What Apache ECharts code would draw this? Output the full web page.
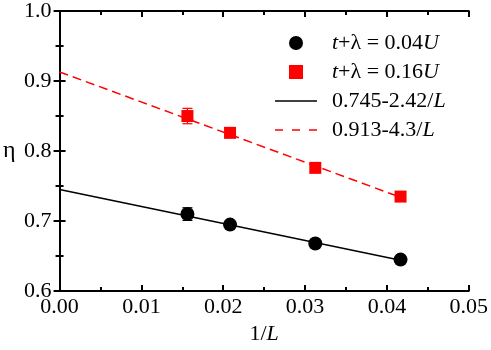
<!DOCTYPE html>
<html>
<head>
<meta charset="utf-8">
<script src="https://cdn.jsdelivr.net/npm/echarts@6/dist/echarts.min.js"></script>
<style>
  html, body { margin: 0; padding: 0; background: #fff; }
  #chart { width: 491px; height: 350px; }
</style>
</head>
<body>
<div id="chart"></div>
<script>
  // 1/L for L = 64, 48, 32, 24
  var invL = [0.015625, 0.020833, 0.03125, 0.041667];
  var etaSmall = [0.710, 0.695, 0.668, 0.645];   // t+λ = 0.04U
  var etaLarge = [0.850, 0.826, 0.776, 0.735];   // t+λ = 0.16U
  var errSmall = [0.009, 0.003, 0.003, 0.003];
  var errLarge = [0.011, 0.003, 0.003, 0.003];
  // fitted lines, end points
  var fitSmall = [[0, 0.745], [0.041667, 0.644]];
  var fitLarge = [[0, 0.913], [0.041667, 0.734]];
  var names = ['t+λ = 0.04U', 't+λ = 0.16U', '0.745-2.42/L', '0.913-4.3/L'];
  var richNames = {
    't+λ = 0.04U': '{i|t}+λ = 0.04{i|U}',
    't+λ = 0.16U': '{i|t}+λ = 0.16{i|U}',
    '0.745-2.42/L': '0.745-2.42/{i|L}',
    '0.913-4.3/L': '0.913-4.3/{i|L}'
  };

  var FONT = 'Liberation Serif';
  var FS = 22;
  var chart = echarts.init(document.getElementById('chart'));

  function pts(xs, ys, es) {
    var out = [];
    for (var i = 0; i < xs.length; i++) out.push(es ? [xs[i], ys[i], es[i]] : [xs[i], ys[i]]);
    return out;
  }

  function errBar(params, api) {
    var x = api.value(0), y = api.value(1), e = api.value(2);
    var top = api.coord([x, y + e]);
    var bot = api.coord([x, y - e]);
    var w = 5;
    var st = { stroke: api.visual('color'), lineWidth: 1.2 };
    return {
      type: 'group',
      children: [
        { type: 'line', shape: { x1: top[0], y1: top[1], x2: bot[0], y2: bot[1] }, style: st },
        { type: 'line', shape: { x1: top[0] - w, y1: top[1], x2: top[0] + w, y2: top[1] }, style: st },
        { type: 'line', shape: { x1: bot[0] - w, y1: bot[1], x2: bot[0] + w, y2: bot[1] }, style: st }
      ]
    };
  }

  var axisCommon = {
    axisLine: { lineStyle: { color: '#000', width: 2 } },
    axisTick: { inside: true, length: 6, lineStyle: { color: '#000', width: 2 } },
    minorTick: { show: true, splitNumber: 2, length: 4, lineStyle: { color: '#000', width: 2 } },
    splitLine: { show: false }
  };

  var option = {
    backgroundColor: '#fff',
    animation: false,
    grid: { left: 58, right: 21, top: 9, bottom: 52 },
    legend: {
      data: [
        { name: names[0], icon: 'circle' },
        { name: names[1], icon: 'path://M0,0h12v12h-12z' },
        { name: names[2], icon: 'path://M0,0h42v1.5h-42z' },
        { name: names[3], icon: 'path://M0,0h8v1.5h-8zM17,0h8v1.5h-8zM34,0h8v1.5h-8z' }
      ],
      left: 270,
      top: 27,
      orient: 'vertical',
      itemWidth: 42,
      itemHeight: 14,
      itemGap: 7,
      selectedMode: false,
      formatter: function (n) { return richNames[n]; },
      textStyle: {
        fontFamily: FONT, fontSize: FS, color: '#000', padding: [0, 0, 0, 10],
        rich: { i: { fontFamily: FONT, fontSize: FS, fontStyle: 'italic', color: '#000' } }
      }
    },
    xAxis: [
      Object.assign({
        type: 'value', min: 0, max: 0.05, interval: 0.01,
        name: '1/{i|L}', nameLocation: 'middle', nameGap: 24,
        nameTextStyle: {
          fontFamily: FONT, fontSize: FS, color: '#000',
          rich: { i: { fontFamily: FONT, fontSize: FS, fontStyle: 'italic', color: '#000' } }
        },
        axisLabel: { fontFamily: FONT, fontSize: FS, color: '#000', margin: 5,
          formatter: function (v) { return v.toFixed(2); } }
      }, axisCommon),
      Object.assign({
        type: 'value', min: 0, max: 0.05, interval: 0.01, position: 'top',
        axisLabel: { show: false }
      }, axisCommon)
    ],
    yAxis: [
      Object.assign({
        type: 'value', min: 0.6, max: 1.0, interval: 0.1,
        name: 'η', nameLocation: 'middle', nameRotate: 0, nameGap: 44,
        nameTextStyle: { fontFamily: FONT, fontSize: 24, color: '#000' },
        axisLabel: { fontFamily: FONT, fontSize: FS, color: '#000', margin: 8,
          formatter: function (v) { return v.toFixed(1); } }
      }, axisCommon),
      Object.assign({
        type: 'value', min: 0.6, max: 1.0, interval: 0.1, position: 'right',
        axisLabel: { show: false }
      }, axisCommon)
    ],
    series: [
      {
        name: names[2], type: 'line', data: fitSmall, symbol: 'none',
        lineStyle: { color: '#000', width: 1.5, type: 'solid' }, itemStyle: { color: '#000' }, z: 1
      },
      {
        name: names[3], type: 'line', data: fitLarge, symbol: 'none',
        lineStyle: { color: '#ff0000', width: 1.5, type: [9, 5] }, itemStyle: { color: '#ff0000' }, z: 1
      },
      {
        type: 'custom', renderItem: errBar, data: pts(invL, etaSmall, errSmall),
        itemStyle: { color: '#000' }, z: 2, silent: true
      },
      {
        type: 'custom', renderItem: errBar, data: pts(invL, etaLarge, errLarge),
        itemStyle: { color: '#ff0000' }, z: 2, silent: true
      },
      {
        name: names[0], type: 'scatter', data: pts(invL, etaSmall), symbol: 'circle', symbolSize: 14,
        itemStyle: { color: '#000', opacity: 1 }, z: 3
      },
      {
        name: names[1], type: 'scatter', data: pts(invL, etaLarge), symbol: 'rect', symbolSize: 12,
        itemStyle: { color: '#ff0000', opacity: 1 }, z: 3
      }
    ]
  };
  chart.setOption(option);
</script>
</body>
</html>
